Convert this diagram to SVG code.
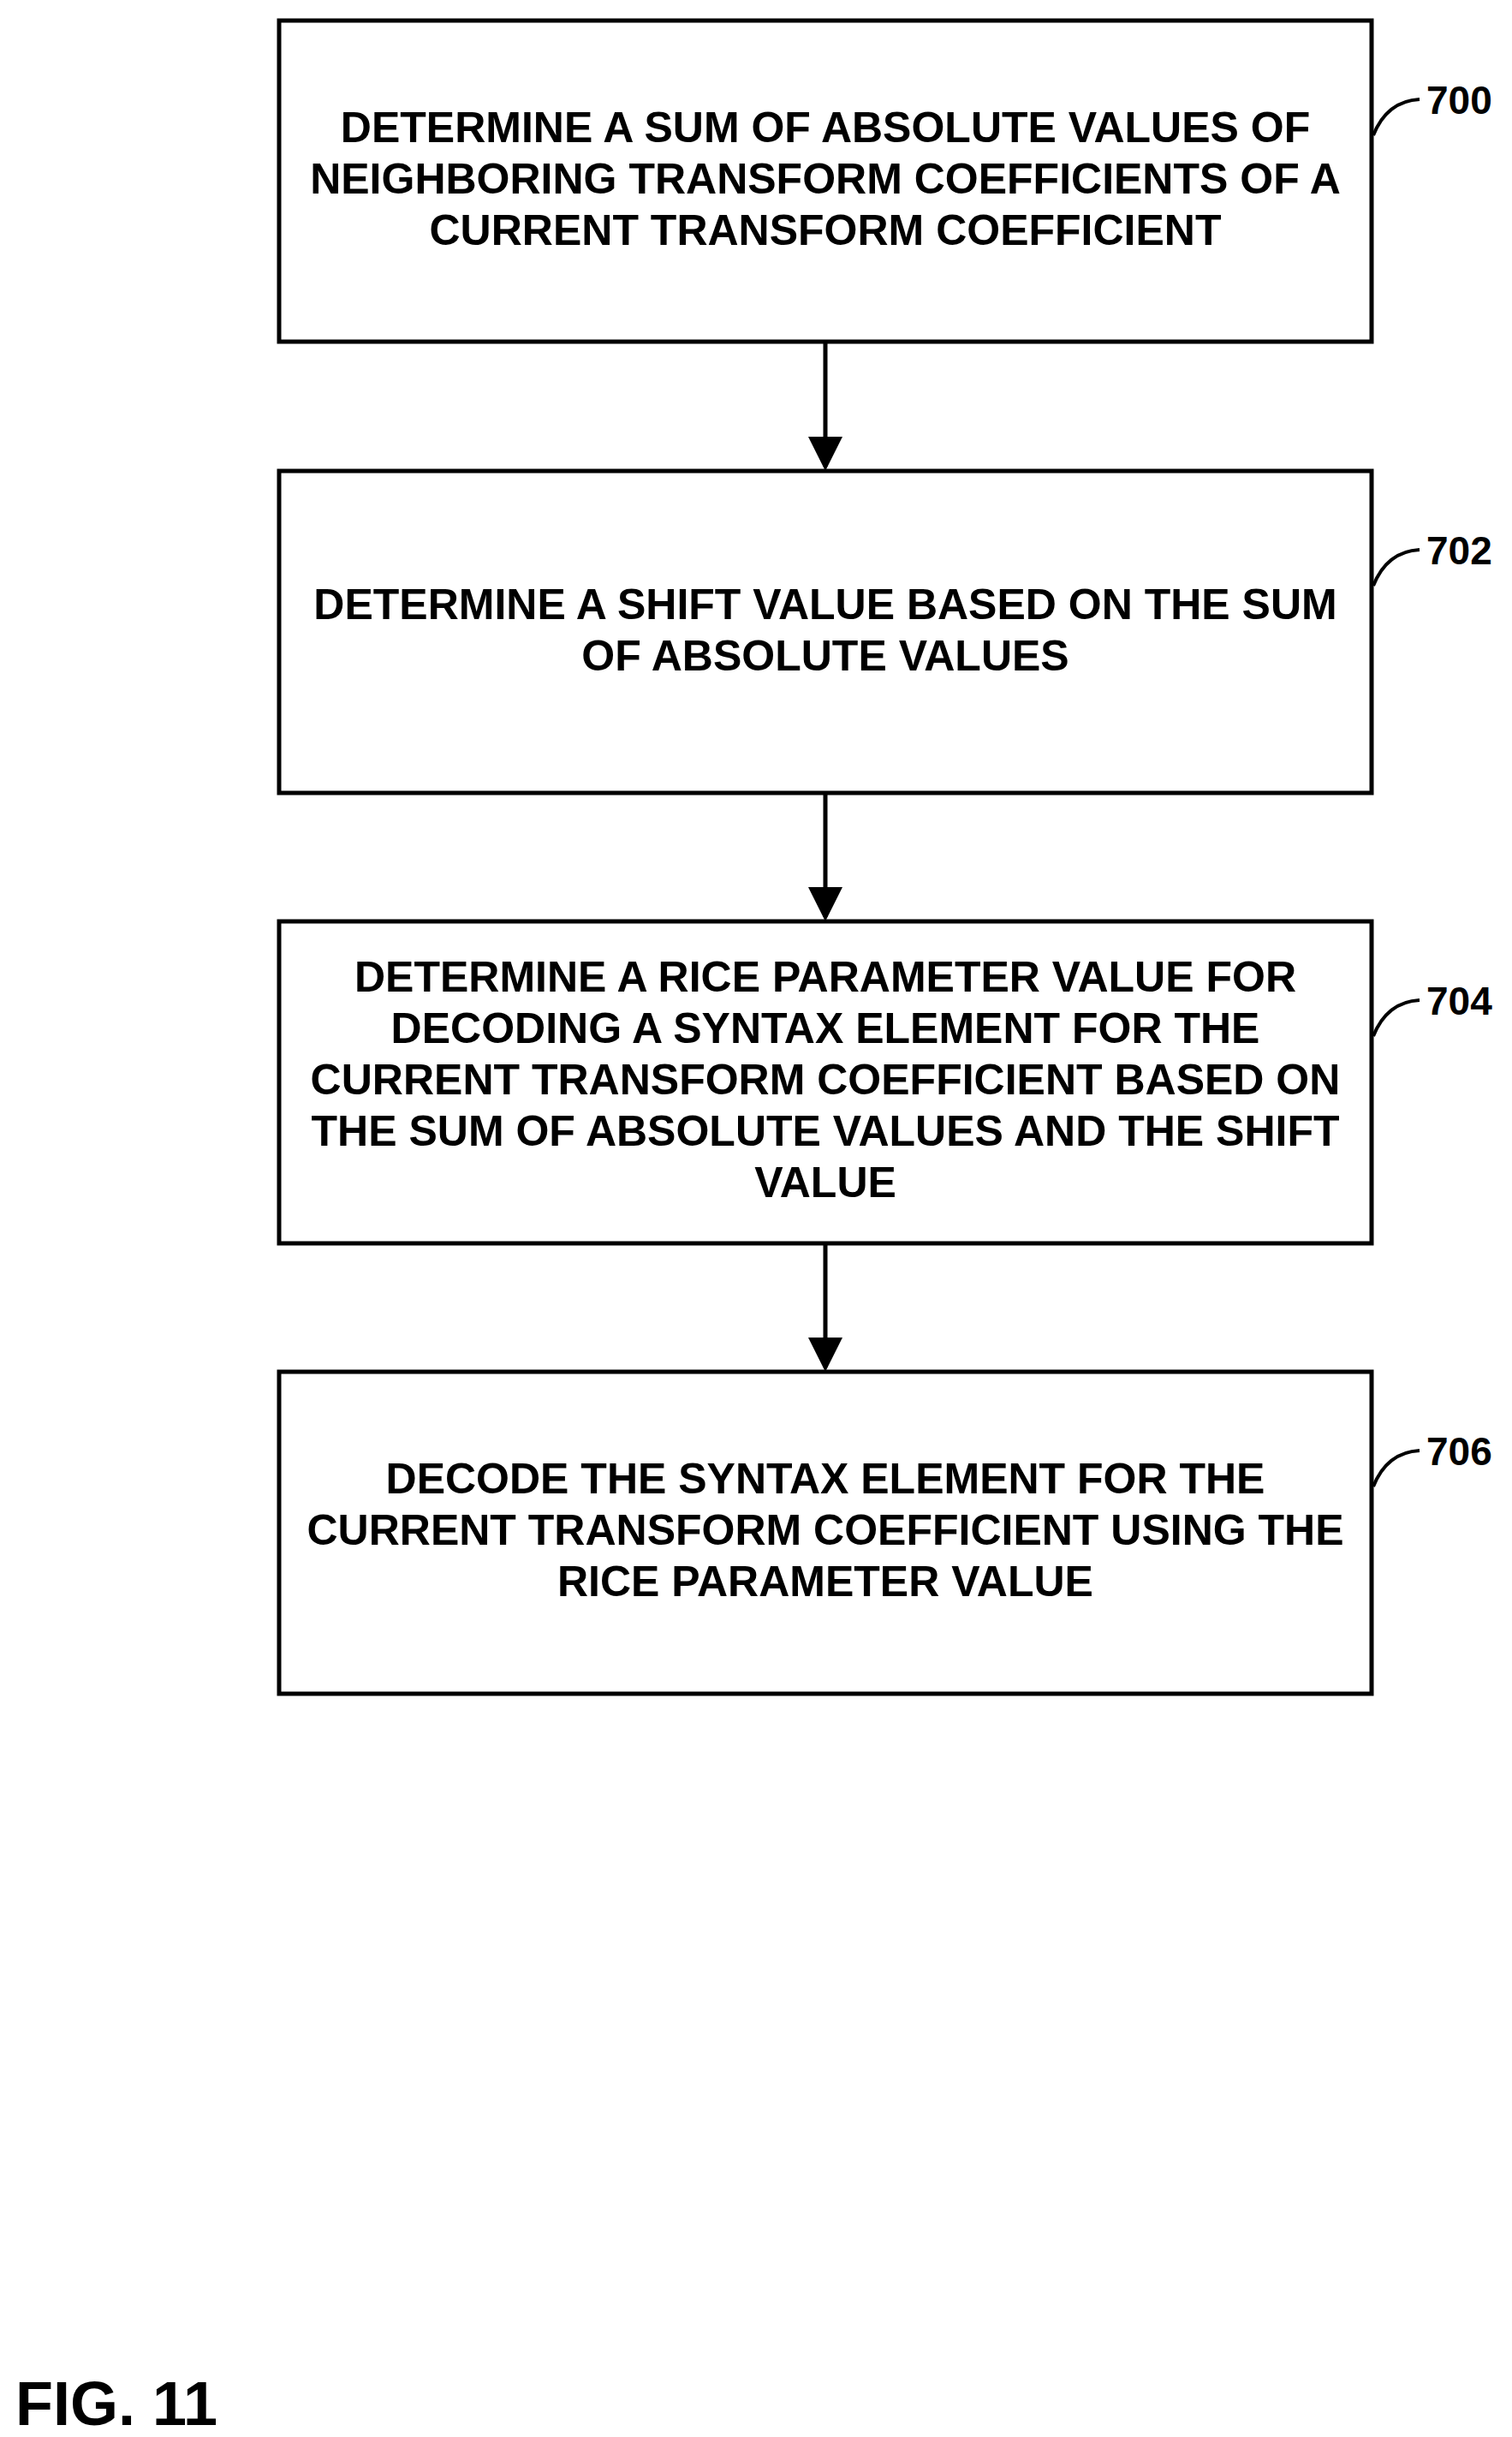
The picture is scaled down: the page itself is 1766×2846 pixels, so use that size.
<svg xmlns="http://www.w3.org/2000/svg" width="1766" height="2846" viewBox="0 0 1766 2846">
<style>
.b{fill:#fff;stroke:#000;stroke-width:5}
.t{font-family:"Liberation Sans",Arial,sans-serif;font-weight:bold;font-size:50px;text-anchor:middle}
.l{font-family:"Liberation Sans",Arial,sans-serif;font-weight:bold;font-size:46px}
.c{fill:none;stroke:#000;stroke-width:4}
</style>
<defs><marker id="a" markerWidth="8" markerHeight="8" refX="7" refY="4" orient="auto" markerUnits="strokeWidth"><path d="M0,0L8,4L0,8z"/></marker></defs>
<rect width="1766" height="2846" fill="#fff"/>
<g id="n700"><rect class="b" x="326" y="24" width="1276" height="375"/>
<text class="t" x="964" y="166">DETERMINE A SUM OF ABSOLUTE VALUES OF</text>
<text class="t" x="964" y="226">NEIGHBORING TRANSFORM COEFFICIENTS OF A</text>
<text class="t" x="964" y="286">CURRENT TRANSFORM COEFFICIENT</text>
<path class="c" d="M1604,158 Q1620,118 1658,116"/><text class="l" x="1666" y="133">700</text></g>
<g id="n702"><rect class="b" x="326" y="550" width="1276" height="376"/>
<text class="t" x="964" y="723">DETERMINE A SHIFT VALUE BASED ON THE SUM</text>
<text class="t" x="964" y="783">OF ABSOLUTE VALUES</text>
<path class="c" d="M1604,684 Q1620,644 1658,642"/><text class="l" x="1666" y="659">702</text></g>
<g id="n704"><rect class="b" x="326" y="1076" width="1276" height="376"/>
<text class="t" x="964" y="1158">DETERMINE A RICE PARAMETER VALUE FOR</text>
<text class="t" x="964" y="1218">DECODING A SYNTAX ELEMENT FOR THE</text>
<text class="t" x="964" y="1278">CURRENT TRANSFORM COEFFICIENT BASED ON</text>
<text class="t" x="964" y="1338">THE SUM OF ABSOLUTE VALUES AND THE SHIFT</text>
<text class="t" x="964" y="1398">VALUE</text>
<path class="c" d="M1604,1210 Q1620,1170 1658,1168"/><text class="l" x="1666" y="1185">704</text></g>
<g id="n706"><rect class="b" x="326" y="1602" width="1276" height="376"/>
<text class="t" x="964" y="1744">DECODE THE SYNTAX ELEMENT FOR THE</text>
<text class="t" x="964" y="1804">CURRENT TRANSFORM COEFFICIENT USING THE</text>
<text class="t" x="964" y="1864">RICE PARAMETER VALUE</text>
<path class="c" d="M1604,1736 Q1620,1696 1658,1694"/><text class="l" x="1666" y="1711">706</text></g>
<g id="connectors" stroke="#000" stroke-width="5">
<line x1="964" y1="399" x2="964" y2="545" marker-end="url(#a)"/>
<line x1="964" y1="926" x2="964" y2="1071" marker-end="url(#a)"/>
<line x1="964" y1="1452" x2="964" y2="1597" marker-end="url(#a)"/>
</g>
<text x="18" y="2832" font-family="Liberation Sans,Arial,sans-serif" font-weight="bold" font-size="72">FIG. 11</text>
</svg>
